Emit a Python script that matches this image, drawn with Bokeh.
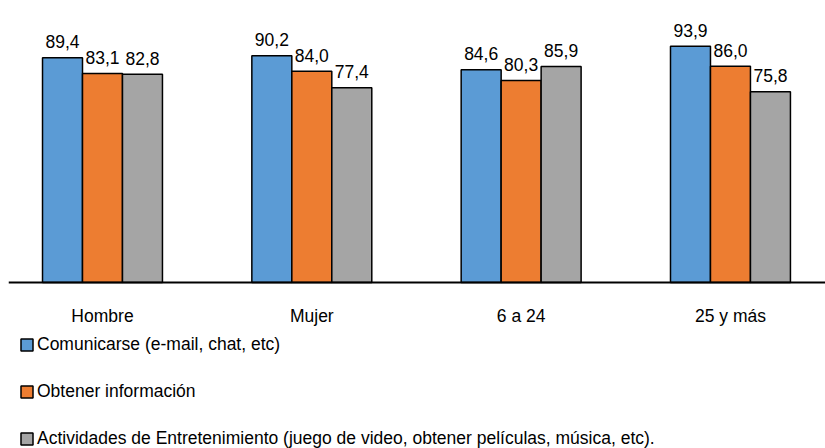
from bokeh.plotting import figure
from bokeh.models import ColumnDataSource, Range1d, Legend, LegendItem, Span
from bokeh.core.properties import value
from bokeh.transform import dodge
from bokeh.embed import file_html
from bokeh.resources import INLINE

categories = ["Hombre", "Mujer", "6 a 24", "25 y más"]
series_names = [
    "Comunicarse (e-mail, chat, etc)",
    "Obtener información",
    "Actividades de Entretenimiento (juego de video, obtener películas, música, etc).",
]
comunicarse = [89.4, 90.2, 84.6, 93.9]
informacion = [83.1, 84.0, 80.3, 86.0]
entretenimiento = [82.8, 77.4, 85.9, 75.8]
colors = ["#5B9BD5", "#ED7D31", "#A5A5A5"]

FONT = "Liberation Sans"
FS = "17.5px"

x_idx = list(range(len(categories)))
src = ColumnDataSource(dict(
    x=x_idx,
    base=[0] * len(categories),
    cat=categories,
    s0=comunicarse, s1=informacion, s2=entretenimiento,
    l0=[f"{v:.1f}".replace(".", ",") for v in comunicarse],
    l1=[f"{v:.1f}".replace(".", ",") for v in informacion],
    l2=[f"{v:.1f}".replace(".", ",") for v in entretenimiento],
))

p = figure(width=825, height=448, output_backend="svg", toolbar_location=None,
           x_range=Range1d(-0.449, 3.454), y_range=Range1d(-66, 108.95),
           x_axis_location=None, y_axis_location=None)
p.min_border_left = 8
p.min_border_right = 0
p.min_border_top = 8
p.min_border_bottom = 0
p.outline_line_color = None
p.xgrid.visible = False
p.ygrid.visible = False

offsets = [-0.191, 0.0, 0.191]
renderers = []
for i, (col, off) in enumerate(zip(["s0", "s1", "s2"], offsets)):
    r = p.vbar(x=dodge("x", off), top=col, width=0.191, source=src,
               fill_color=colors[i], line_color="black", line_width=1.5)
    renderers.append(r)
    p.text(x=dodge("x", off), y=col, text=["l0", "l1", "l2"][i], source=src,
           text_align="center", text_baseline="alphabetic", y_offset=-16,
           text_font=value(FONT), text_font_size=FS, text_color="#000000")

# category axis: baseline line and labels
p.add_layout(Span(location=0, dimension="width", line_color="black", line_width=2))
p.text(x="x", y="base", text="cat", source=src, text_align="center",
       text_baseline="alphabetic", y_offset=33,
       text_font=value(FONT), text_font_size=FS, text_color="#000000")

legend = Legend(items=[LegendItem(label=n, renderers=[r]) for n, r in zip(series_names, renderers)],
                orientation="vertical", location=(11, -1))
legend.margin = 0
legend.padding = 0
legend.border_line_color = None
legend.background_fill_alpha = 0
legend.glyph_width = 15
legend.glyph_height = 15
legend.label_height = 20
legend.label_standoff = 3
legend.spacing = 26
legend.label_text_font = FONT
legend.label_text_font_size = FS
legend.label_text_color = "#000000"
legend.label_text_baseline = "middle"
p.add_layout(legend)

open("out.html", "w").write(file_html(p, INLINE))
